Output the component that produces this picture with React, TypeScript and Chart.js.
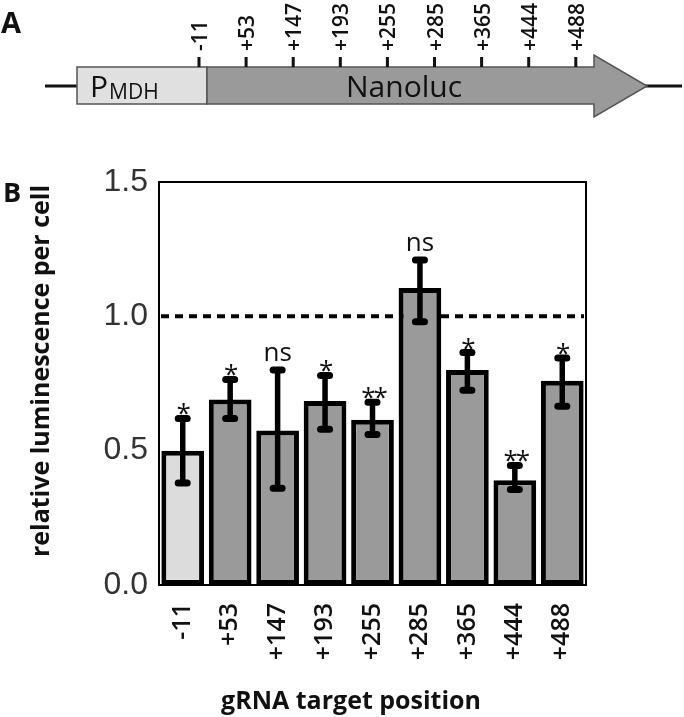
import React, { useEffect, useRef } from 'react';
import { Chart, registerables } from 'chart.js';

Chart.register(...registerables);

// ---- data ----
const categories = ['-11', '+53', '+147', '+193', '+255', '+285', '+365', '+444', '+488'];
const values = [0.5, 0.69, 0.575, 0.685, 0.615, 1.105, 0.8, 0.39, 0.76];
const errLow = [0.38, 0.62, 0.36, 0.58, 0.56, 0.98, 0.725, 0.355, 0.665];
const errHigh = [0.62, 0.765, 0.8, 0.78, 0.68, 1.21, 0.865, 0.445, 0.845];
const significance = ['*', '*', 'ns', '*', '**', 'ns', '*', '**', '*'];
const barColors = ['#dcdcdc', '#9a9a9a', '#9a9a9a', '#9a9a9a', '#9a9a9a', '#9a9a9a', '#9a9a9a', '#9a9a9a', '#9a9a9a'];
const yTicks = [0, 0.5, 1.0, 1.5];
const referenceLevel = 1.0;
const yTitle = 'relative luminescence per cell';
const xTitle = 'gRNA target position';

const framePlugin = {
  id: 'frame',
  beforeDatasetsDraw(chart: any) {
    const { ctx, chartArea } = chart;
    const y = chart.scales.y.getPixelForValue(referenceLevel);
    ctx.save();
    ctx.strokeStyle = '#000';
    ctx.lineWidth = 2;
    ctx.strokeRect(chartArea.left, chartArea.top, chartArea.right - chartArea.left, chartArea.bottom - chartArea.top);
    ctx.setLineDash([8, 6]);
    ctx.lineWidth = 4;
    ctx.beginPath();
    ctx.moveTo(chartArea.left + 2, y);
    ctx.lineTo(chartArea.right - 2, y);
    ctx.stroke();
    ctx.restore();
  },
};

const errorPlugin = {
  id: 'errors',
  afterDatasetsDraw(chart: any) {
    const { ctx } = chart;
    const ys = chart.scales.y;
    const meta = chart.getDatasetMeta(0);
    ctx.save();
    ctx.strokeStyle = '#000';
    meta.data.forEach((bar: any, i: number) => {
      const x = bar.x;
      const yl = ys.getPixelForValue(errLow[i]);
      const yh = ys.getPixelForValue(errHigh[i]);
      ctx.lineCap = 'butt';
      ctx.lineWidth = 5.5;
      ctx.beginPath();
      ctx.moveTo(x, yl);
      ctx.lineTo(x, yh);
      ctx.stroke();
      ctx.lineCap = 'round';
      ctx.lineWidth = 7;
      ctx.beginPath();
      ctx.moveTo(x - 4.5, yl);
      ctx.lineTo(x + 4.5, yl);
      ctx.moveTo(x - 4.5, yh);
      ctx.lineTo(x + 4.5, yh);
      ctx.stroke();
      // significance label
      ctx.fillStyle = '#111';
      ctx.textAlign = 'center';
      ctx.textBaseline = 'alphabetic';
      const s = significance[i];
      if (s === 'ns') {
        ctx.font = '26px "Open Sans"';
        (ctx as any).letterSpacing = '0px';
        ctx.fillText(s, x, yh - 9);
      } else {
        ctx.font = '26px "Open Sans"';
        (ctx as any).letterSpacing = '-2px';
        ctx.fillText(s, x + (s.length > 1 ? 1 : 0), yh + 4);
      }
    });
    ctx.restore();
  },
};

const titlesPlugin = {
  id: 'titles',
  afterDraw(chart: any) {
    const { ctx } = chart;
    ctx.save();
    ctx.fillStyle = '#111';
    ctx.font = 'bold 25px "Open Sans"';
    ctx.textAlign = 'center';
    ctx.textBaseline = 'middle';
    ctx.translate(42, 371);
    ctx.rotate(-Math.PI / 2);
    ctx.fillText(yTitle, 0, 0);
    ctx.restore();
    ctx.save();
    ctx.fillStyle = '#111';
    ctx.font = 'bold 25px "Open Sans"';
    ctx.textAlign = 'center';
    ctx.textBaseline = 'alphabetic';
    ctx.fillText(xTitle, 351, 709);
    ctx.restore();
  },
};

function Diagram() {
  const x0 = 199;
  const step = 47.1;
  return (
    <svg
      width={684}
      height={717}
      style={{ position: 'absolute', left: 0, top: 0, pointerEvents: 'none' }}
    >
      <text x={1} y={33} fontFamily="Open Sans" fontWeight="bold" fontSize={29} fill="#111">A</text>
      <text x={3} y={202} fontFamily="Open Sans" fontWeight="bold" fontSize={27} fill="#111">B</text>
      <line x1={45} y1={86} x2={78} y2={86} stroke="#111" strokeWidth={3} />
      <line x1={645} y1={86} x2={682} y2={86} stroke="#111" strokeWidth={3} />
      <rect x={77} y={67} width={130} height={37} fill="#e0e0e0" stroke="#555" strokeWidth={1.5} />
      <polygon
        points="207,67 594,67 594,55 647,86 594,117 594,104 207,104"
        fill="#9a9a9a"
        stroke="#555"
        strokeWidth={1.5}
      />
      <text x={90} y={97} fontFamily="Open Sans" fontSize={30} fill="#111">P</text>
      <text x={109} y={99} fontFamily="Open Sans" fontSize={21} fill="#111">MDH</text>
      <text x={404} y={97} fontFamily="Open Sans" fontSize={30} fill="#111" textAnchor="middle">Nanoluc</text>
      {categories.map((c, i) => {
        const x = x0 + i * step;
        return (
          <g key={c}>
            <line x1={x} y1={57} x2={x} y2={67} stroke="#111" strokeWidth={3} />
            <text
              transform={`translate(${x},51) rotate(-90)`}
              fontFamily="Open Sans"
              fontWeight={600}
              fontSize={21}
              fill="#111"
              dominantBaseline="central"
            >
              {c}
            </text>
          </g>
        );
      })}
    </svg>
  );
}

export default function App() {
  const ref = useRef<HTMLCanvasElement>(null);
  useEffect(() => {
    const canvas = ref.current!;
    const chart = new Chart(canvas, {
      type: 'bar',
      data: {
        labels: categories,
        datasets: [
          {
            data: values,
            backgroundColor: barColors,
            borderColor: '#000',
            borderWidth: 5,
            borderSkipped: false,
            barPercentage: 0.9,
            categoryPercentage: 1,
          },
        ],
      },
      options: {
        responsive: false,
        animation: false,
        devicePixelRatio: 1,
        layout: { padding: { top: 182, right: 98, left: 0, bottom: 0 } },
        plugins: { legend: { display: false }, tooltip: { enabled: false } },
        scales: {
          x: {
            grid: { display: false, drawTicks: false },
            border: { display: false },
            ticks: {
              autoSkip: false,
              minRotation: 90,
              maxRotation: 90,
              padding: 18,
              font: { family: 'Open Sans', size: 25, weight: '600' },
              color: '#111',
            },
            afterFit: (s: any) => {
              s.height = 132;
            },
          },
          y: {
            min: 0,
            max: 1.5,
            grid: { display: false, drawTicks: false },
            border: { display: false },
            ticks: {
              padding: 11,
              callback: (v: any) => Number(v).toFixed(1),
              font: { family: 'Liberation Sans', size: 32 },
              color: '#333',
            },
            afterBuildTicks: (s: any) => {
              s.ticks = yTicks.map((v) => ({ value: v }));
            },
            afterFit: (s: any) => {
              s.width = 159;
            },
          },
        },
      } as any,
      plugins: [framePlugin, errorPlugin, titlesPlugin],
    });
    return () => chart.destroy();
  }, []);
  return (
    <div style={{ position: 'fixed', left: 0, top: 0, width: 684, height: 717, background: '#fff' }}>
      <canvas ref={ref} width={684} height={717} style={{ display: 'block', width: 684, height: 717 }} />
      <Diagram />
    </div>
  );
}
